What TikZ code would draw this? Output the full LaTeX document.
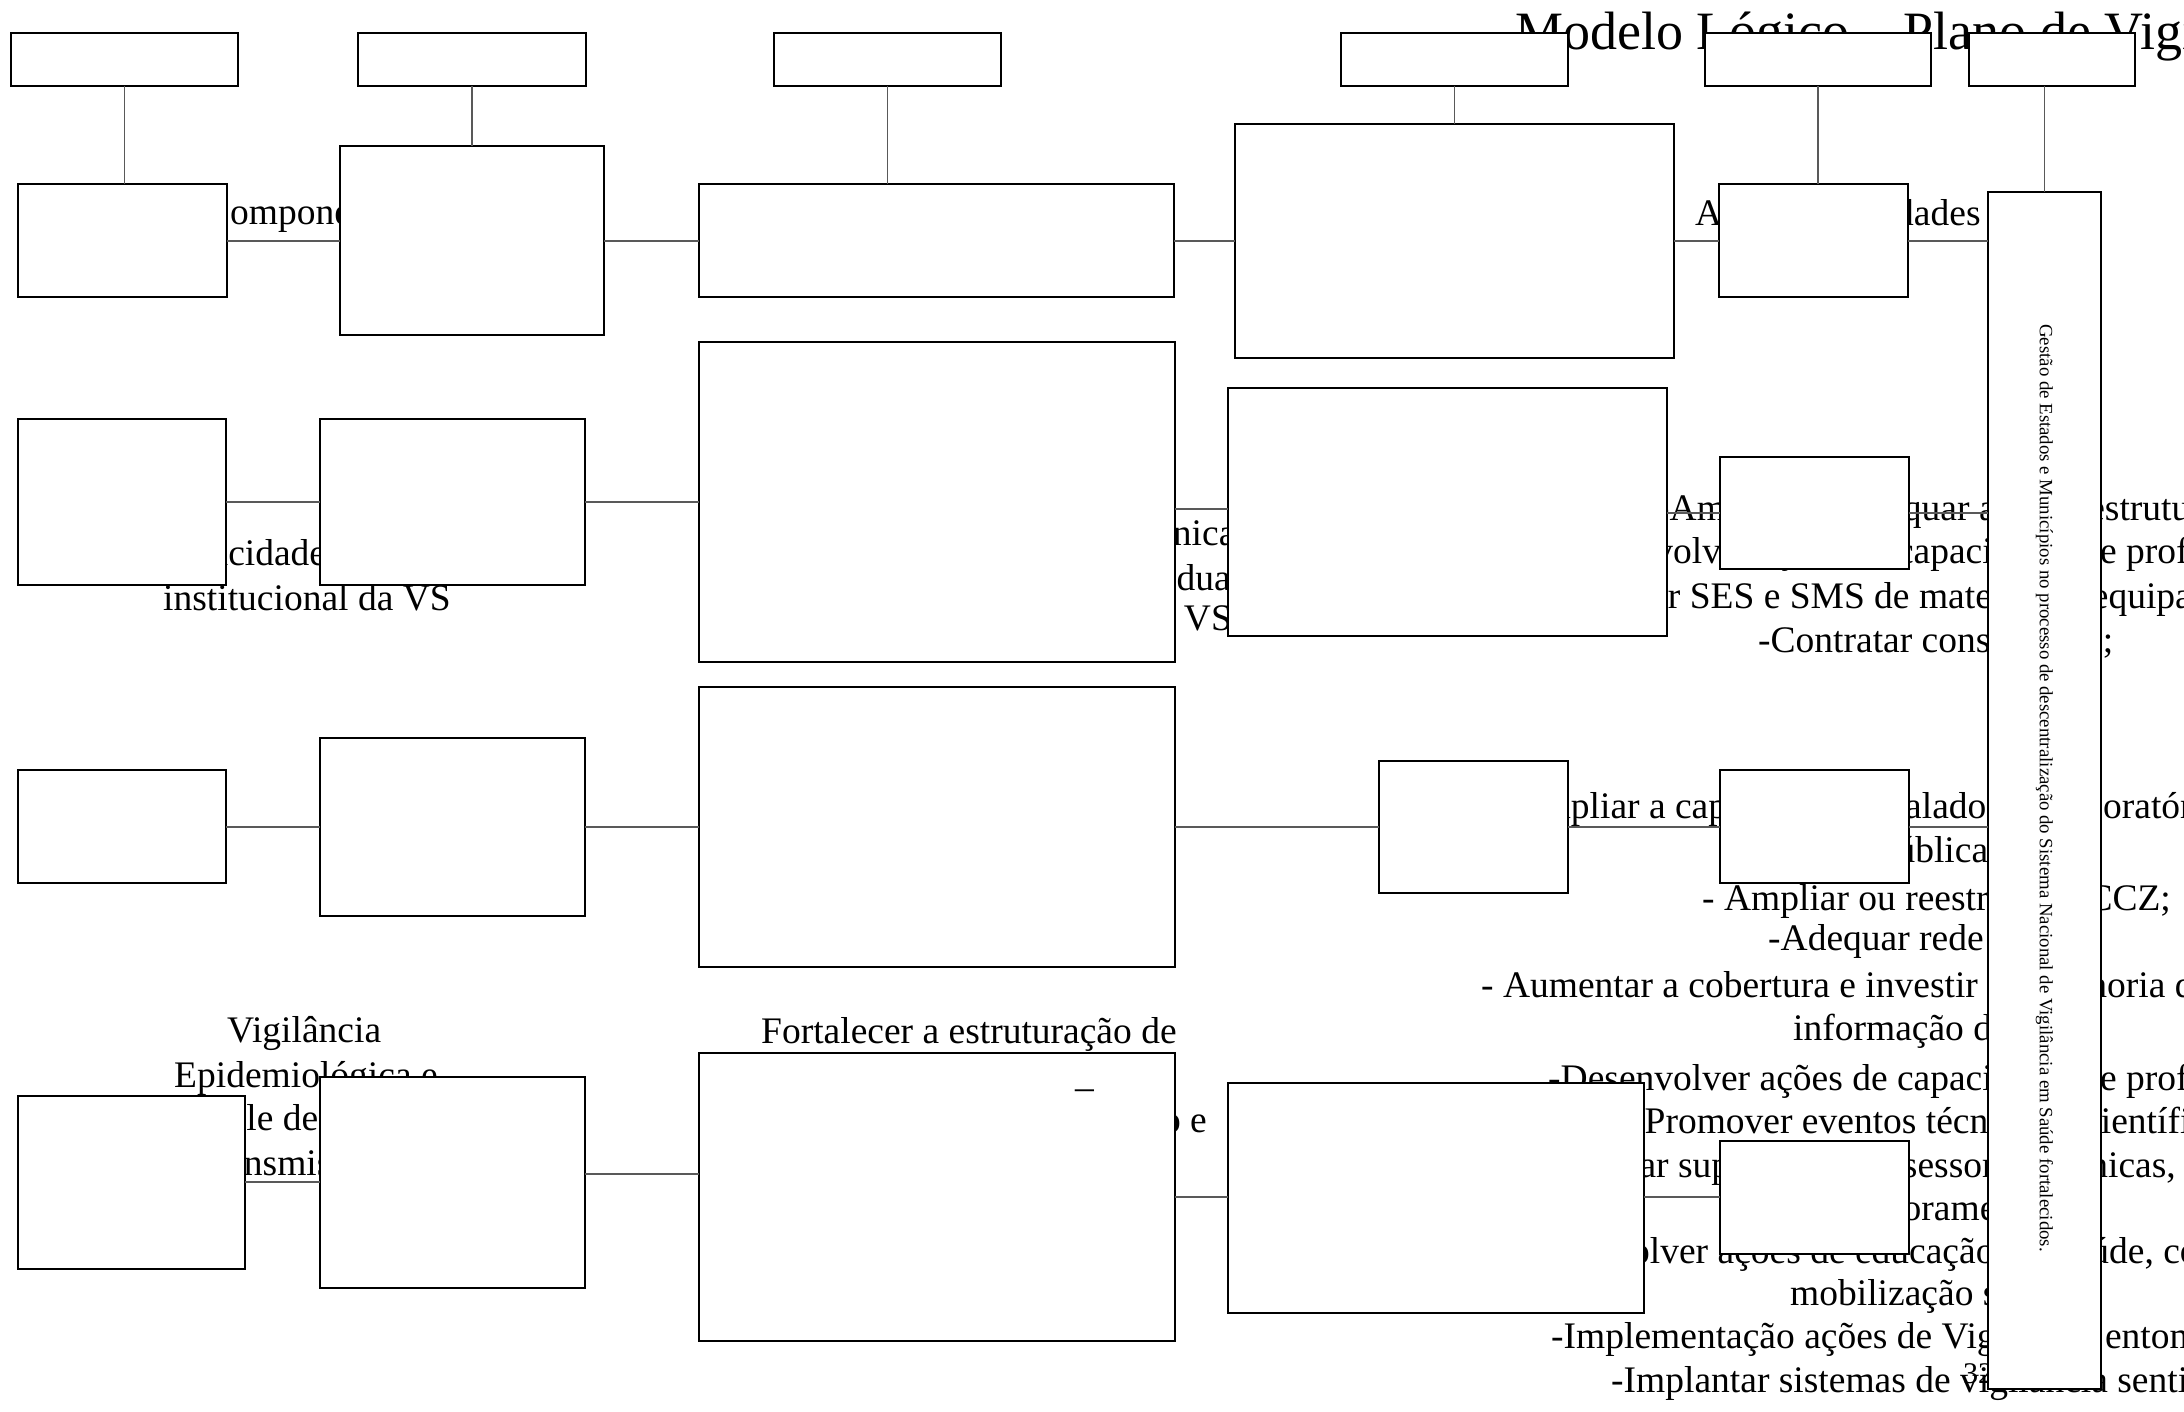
\documentclass[tikz,border=0pt]{standalone}
\usepackage{fontspec}
\setmainfont{Liberation Serif}
\newcommand\mkbox[5]{%
  \pgfmathsetmacro\mkW{#4-#2}%
  \pgfmathsetmacro\mkH{#5-#3}%
  \pgfmathsetmacro\mkX{(#2+#4)/2}%
  \pgfmathsetmacro\mkY{(#3+#5)/2}%
  \node[bx,minimum width=\mkW pt,minimum height=\mkH pt] (#1) at (\mkX,\mkY) {};}
\begin{document}
\begin{tikzpicture}[x=1pt,y=-1pt,
  bx/.style={draw=black,fill=white,line width=1.4pt,inner sep=0pt,outer sep=0pt},
  cn/.style={draw=black!65,line width=1.6pt},
  tx/.style={font=\fontsize{37.5}{44}\selectfont,inner sep=0pt,anchor=base west},
  ]
\useasboundingbox (0,0) rectangle (2184,1412);
\clip (0,0) rectangle (2184,1412);
\fill[white] (0,0) rectangle (2184,1412);

% ---------- texts (behind boxes) ----------
\node[font=\fontsize{54}{60}\selectfont,inner sep=0pt,anchor=base west] (title) at (1515,50) {Modelo Lógico – Plano de Vigilância em Saúde};

\node[tx] (t-comp) at (205,225) {Componentes};
\node[tx] (t-acoes) at (1695,226) {Ações / Atividades};

\node[tx] (t-cap1) at (151,565) {Capacidade};
\node[tx] (t-cap2) at (163,610) {institucional da VS};

\node[tx] (t-mid1) at (1129,545) {técnica};
\node[tx] (t-mid2) at (1089,590) {individual};
\node[tx] (t-mid3) at (1139,630) {da VS};

\node[tx] (r2a) at (1657,520) {-Ampliar ou adequar a infra-estrutura física;};
\node[tx] (r2b) at (1548,563) {-Desenvolver ações de capacitação de profissionais;};
\node[tx] (r2c) at (1549,608) {-Equipar SES e SMS de materiais e equipamentos;};
\node[tx] (r2d) at (1758,652) {-Contratar consultorias;};

\node[tx] (r3a) at (1502,818) {-Ampliar a capacidade instalado dos laboratórios};
\node[tx] (r3b) at (1738,862) {de saúde pública;};
\node[tx] (r3c) at (1702,910) {- Ampliar ou reestruturar CCZ;};
\node[tx] (r3d) at (1768,950) {-Adequar rede de frio;};
\node[tx] (r3e) at (1481,997) {- Aumentar a cobertura e investir na melhoria da qualidade};
\node[tx] (r3f) at (1793,1040) {informação da VS;};
\node[tx] (r3g) at (1548,1090) {-Desenvolver ações de capacitação de profissionais;};
\node[tx] (r3h) at (1632,1133) {-Promover eventos técnicos e científicos;};
\node[tx] (r3i) at (1531,1177) {-Realizar supervisões, assessorias técnicas, acompanhamento e};
\node[tx] (r3j) at (1815,1220) {monitoramento;};
\node[tx] (r3k) at (1506,1263) {-Desenvolver ações de educação em saúde, comunicação e};
\node[tx] (r3l) at (1790,1305) {mobilização social;};
\node[tx] (r3m) at (1551,1348) {-Implementação ações de Vigilância entomológica;};
\node[tx] (r3n) at (1611,1392) {-Implantar sistemas de vigilância sentinela;};
\node[font=\fontsize{30}{34}\selectfont,inner sep=0pt,anchor=base west] (pg) at (1963,1383) {32};

\node[tx] (v1) at (227,1042) {Vigilância};
\node[tx] (v2) at (174,1087) {Epidemiológica e};
\node[tx] (v3) at (142,1130) {Controle de doenças};
\node[tx] (v4) at (193,1175) {Transmissíveis};

\node[tx] (f1) at (761,1043) {Fortalecer a estruturação de};
\node[tx,anchor=base east] (f3) at (1207,1132) {informação e};

% ---------- boxes ----------
\mkbox{A1}{11}{33}{238}{86}
\mkbox{A2}{358}{33}{586}{86}
\mkbox{A3}{774}{33}{1001}{86}
\mkbox{A4}{1341}{33}{1568}{86}
\mkbox{A5}{1705}{33}{1931}{86}
\mkbox{A6}{1969}{33}{2135}{86}

\mkbox{B1}{18}{184}{227}{297}
\mkbox{B2}{340}{146}{604}{335}
\mkbox{B3}{699}{184}{1174}{297}
\mkbox{B4}{1235}{124}{1674}{358}
\mkbox{B5}{1719}{184}{1908}{297}
\mkbox{C}{1988}{192}{2101}{1389}
\mkbox{D1}{18}{419}{226}{585}
\mkbox{D2}{320}{419}{585}{585}
\mkbox{D3}{699}{342}{1175}{662}
\mkbox{D4}{1228}{388}{1667}{636}
\mkbox{E5}{1720}{457}{1909}{569}
\mkbox{F1}{18}{770}{226}{883}
\mkbox{F2}{320}{738}{585}{916}
\mkbox{F3}{699}{687}{1175}{967}
\mkbox{F4}{1379}{761}{1568}{893}
\mkbox{F5}{1720}{770}{1909}{883}
\mkbox{G1}{18}{1096}{245}{1269}
\mkbox{G2}{320}{1077}{585}{1288}
\mkbox{G3}{699}{1053}{1175}{1341}
\mkbox{G4}{1228}{1083}{1644}{1313}
\mkbox{G5}{1720}{1141}{1909}{1254}

% ---------- connectors ----------
\draw[cn] (A1.south) -- (A1.south |- B1.north);
\draw[cn] (A2.south) -- (A2.south |- B2.north);
\draw[cn] (A3.south) -- (A3.south |- B3.north);
\draw[cn] (A4.south) -- (A4.south |- B4.north);
\draw[cn] (A5.south) -- (A5.south |- B5.north);
\draw[cn] (C.north |- A6.south) -- (C.north);

\draw[cn] (B1.east |- 0,241) -- (B2.west |- 0,241);
\draw[cn] (B2.east |- 0,241) -- (B3.west |- 0,241);
\draw[cn] (B3.east |- 0,241) -- (B4.west |- 0,241);
\draw[cn] (B4.east |- 0,241) -- (B5.west |- 0,241);
\draw[cn] (B5.east |- 0,241) -- (C.west |- 0,241);

\draw[cn] (D1.east |- 0,502) -- (D2.west |- 0,502);
\draw[cn] (D2.east |- 0,502) -- (D3.west |- 0,502);
\draw[cn] (D3.east |- 0,509) -- (D4.west |- 0,509);
\draw[cn] (D4.east |- 0,513) -- (E5.west |- 0,513);
\draw[cn] (E5.east |- 0,513) -- (C.west |- 0,513);

\draw[cn] (F1.east |- 0,827) -- (F2.west |- 0,827);
\draw[cn] (F2.east |- 0,827) -- (F3.west |- 0,827);
\draw[cn] (F3.east |- 0,827) -- (F4.west |- 0,827);
\draw[cn] (F4.east |- 0,827) -- (F5.west |- 0,827);
\draw[cn] (F5.east |- 0,827) -- (C.west |- 0,827);

\draw[cn] (G1.east |- 0,1182) -- (G2.west |- 0,1182);
\draw[cn] (G2.east |- 0,1174) -- (G3.west |- 0,1174);
\draw[cn] (G3.east |- 0,1197) -- (G4.west |- 0,1197);
\draw[cn] (G4.east |- 0,1197) -- (G5.west |- 0,1197);

% ---------- texts on top ----------
\node[font=\fontsize{18.8}{22}\selectfont,inner sep=0pt,rotate=-90] (vt) at (2044.5,788)
  {Gestão de Estados e Municípios no processo de descentralização do Sistema Nacional de Vigilância em Saúde fortalecidos.};
\node[tx] (dsh) at (1075,1099) {–};
\end{tikzpicture}
\end{document}
